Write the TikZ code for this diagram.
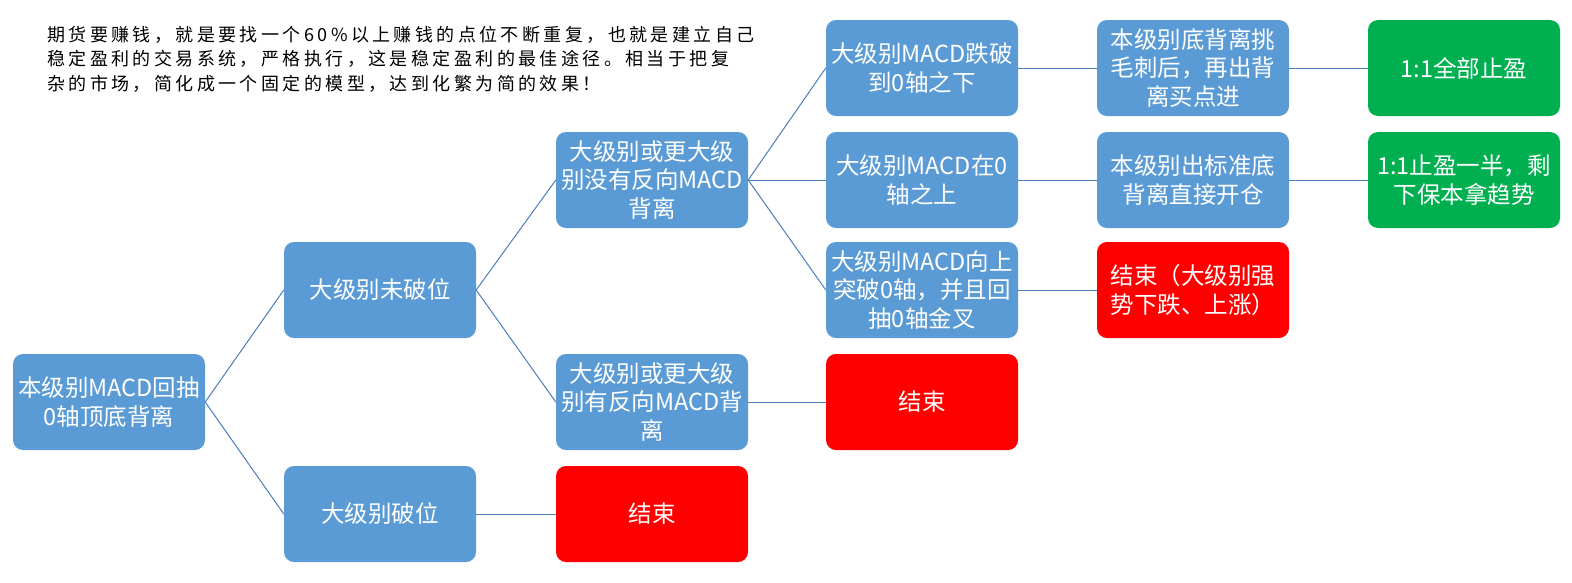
\documentclass[tikz,border=0pt]{standalone}
\usepackage{fontspec}
\newfontfamily\cjk{Noto Sans CJK SC}
\newfontfamily\cjknote[LetterSpace=19]{Noto Sans CJK SC}
\definecolor{boxblue}{HTML}{5B9BD5}
\definecolor{boxgreen}{HTML}{00B050}
\definecolor{boxred}{HTML}{FF0000}
\definecolor{linkblue}{HTML}{4A7EBB}
\begin{document}
\begin{tikzpicture}[x=1pt,y=-1pt,
  box/.style={fill=boxblue,rounded corners=10pt,minimum width=192pt,minimum height=96pt,
    inner sep=2pt,text=white,align=center,font=\cjk\fontsize{23.5}{28.5}\selectfont},
  stop/.style={box,fill=boxred},
  win/.style={box,fill=boxgreen},
  link/.style={draw=linkblue,line width=1pt}]
\useasboundingbox (0,0) rectangle (1572,582);
\node[anchor=north west,align=left,inner sep=0pt,font=\cjknote\fontsize{18}{24.5}\selectfont] (note) at (47,26)
  {期货要赚钱，就是要找一个60\%以上赚钱的点位不断重复，也就是建立自己\\
   稳定盈利的交易系统，严格执行，这是稳定盈利的最佳途径。相当于把复\\
   杂的市场，简化成一个固定的模型，达到化繁为简的效果！};
% column 1
\node[box] (start) at (109,402) {本级别MACD回抽\\0轴顶底背离};
% column 2
\node[box] (keep) at (380,290) {大级别未破位};
\node[box] (broke) at (380,514) {大级别破位};
% column 3
\node[box] (nodiv) at (652,180) {大级别或更大级\\别没有反向MACD\\背离};
\node[box] (hasdiv) at (652,402) {大级别或更大级\\别有反向MACD背\\离};
\node[stop] (endA) at (652,514) {结束};
% column 4
\node[box] (below) at (922,68) {大级别MACD跌破\\到0轴之下};
\node[box] (above) at (922,180) {大级别MACD在0\\轴之上};
\node[box] (cross) at (922,290) {大级别MACD向上\\突破0轴，并且回\\抽0轴金叉};
\node[stop] (endB) at (922,402) {结束};
% column 5
\node[box] (buyA) at (1193,68) {本级别底背离挑\\毛刺后，再出背\\离买点进};
\node[box] (buyB) at (1193,180) {本级别出标准底\\背离直接开仓};
\node[stop,align=left] (endC) at (1193,290) {结束（大级别强\\势下跌、上涨）};
% column 6
\node[win] (allout) at (1464,68) {1:1全部止盈};
\node[win] (halfout) at (1464,180) {1:1止盈一半，剩\\下保本拿趋势};
% links
\draw[link] (start.east) -- (keep.west);
\draw[link] (start.east) -- (broke.west);
\draw[link] (keep.east) -- (nodiv.west);
\draw[link] (keep.east) -- (hasdiv.west);
\draw[link] (broke.east) -- (endA.west);
\draw[link] (nodiv.east) -- (below.west);
\draw[link] (nodiv.east) -- (above.west);
\draw[link] (nodiv.east) -- (cross.west);
\draw[link] (hasdiv.east) -- (endB.west);
\draw[link] (below.east) -- (buyA.west);
\draw[link] (above.east) -- (buyB.west);
\draw[link] (cross.east) -- (endC.west);
\draw[link] (buyA.east) -- (allout.west);
\draw[link] (buyB.east) -- (halfout.west);
\end{tikzpicture}
\end{document}
